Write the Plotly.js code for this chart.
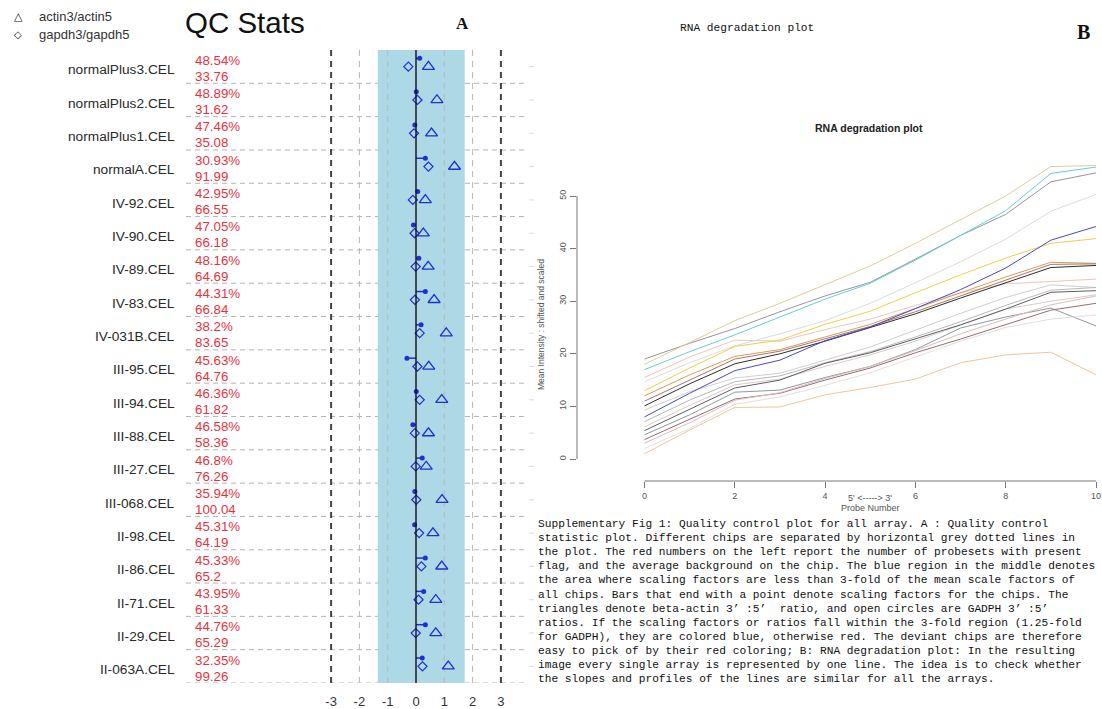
<!DOCTYPE html>
<html><head><meta charset="utf-8">
<script src="https://cdn.plot.ly/plotly-3.0.1.min.js"></script>
<style>html,body{margin:0;padding:0;background:#fff}#chart{width:1102px;height:709px}</style>
</head><body><div id="chart"></div>
<script>
// ---------- Panel A data (QC Stats) ----------
const chips = ["normalPlus3.CEL","normalPlus2.CEL","normalPlus1.CEL","normalA.CEL","IV-92.CEL","IV-90.CEL","IV-89.CEL","IV-83.CEL","IV-031B.CEL","III-95.CEL","III-94.CEL","III-88.CEL","III-27.CEL","III-068.CEL","II-98.CEL","II-86.CEL","II-71.CEL","II-29.CEL","II-063A.CEL"];
const presentPct = [48.54,48.89,47.46,30.93,42.95,47.05,48.16,44.31,38.2,45.63,46.36,46.58,46.8,35.94,45.31,45.33,43.95,44.76,32.35];
const background = [33.76,31.62,35.08,91.99,66.55,66.18,64.69,66.84,83.65,64.76,61.82,58.36,76.26,100.04,64.19,65.2,61.33,65.29,99.26];
const scaleFactor = [0.13,0.01,-0.04,0.33,0.06,-0.09,0.10,0.33,0.18,-0.32,0.01,-0.11,0.22,-0.04,-0.05,0.33,0.27,0.33,0.22];
const gapdhRatio = [-0.27,0.05,-0.07,0.44,-0.11,-0.05,-0.01,-0.04,0.13,0.05,0.13,-0.04,-0.01,0.01,0.11,0.19,0.09,-0.01,0.23];
const actinRatio = [0.44,0.74,0.55,1.36,0.33,0.26,0.43,0.64,1.07,0.45,0.91,0.44,0.36,0.92,0.60,0.91,0.70,0.70,1.14];
const sfRegion = [-1.35, 1.72];
const axisTicksA = [-3,-2,-1,0,1,2,3];

// ---------- Panel B data (RNA degradation) ----------
const probeNumber = [0,1,2,3,4,5,6,7,8,9,10];
const degLines = [
  [19.0,22.0,24.8,28.0,31.0,33.6,38.0,42.5,46.5,52.7,54.4],
  [18.0,22.2,26.3,29.6,33.2,36.7,41.0,45.5,50.0,55.6,55.8],
  [17.0,20.4,23.6,27.0,30.4,33.4,37.8,42.5,47.2,54.3,55.5],
  [15.5,19.4,22.6,22.4,24.6,26.6,29.2,31.6,33.3,33.8,34.2],
  [14.7,18.3,21.5,23.8,26.3,29.6,33.5,37.5,41.8,47.1,50.3],
  [13.0,17.3,21.4,22.6,25.6,28.1,31.6,35.0,38.2,41.0,41.9],
  [12.0,16.0,19.5,20.8,23.2,25.6,28.6,31.6,34.6,37.4,37.2],
  [11.0,15.0,19.0,20.5,22.8,25.2,28.0,31.0,34.0,37.0,37.1],
  [10.1,14.3,18.1,20.0,22.4,25.0,27.6,30.6,33.5,36.4,36.8],
  [9.3,12.8,15.4,16.3,18.8,21.3,24.5,27.7,30.7,33.1,32.6],
  [8.0,12.5,16.8,18.8,22.5,25.1,28.6,32.2,36.3,41.6,44.2],
  [7.1,11.2,14.7,15.8,18.3,20.4,23.2,26.1,29.2,32.1,32.6],
  [6.1,10.2,14.1,15.2,17.6,19.8,22.4,25.5,28.5,30.0,31.2],
  [5.4,9.4,13.5,15.0,18.2,20.2,22.8,25.5,28.5,31.7,32.0],
  [4.6,8.4,12.7,13.1,15.5,17.6,20.8,24.9,27.0,28.7,25.3],
  [3.7,7.5,11.4,12.5,15.0,17.3,20.2,22.8,25.6,28.3,29.6],
  [3.0,6.9,11.2,12.6,15.3,17.6,20.6,23.8,26.6,29.3,31.0],
  [2.0,5.8,10.4,11.8,14.0,16.4,19.4,22.4,25.0,26.6,27.4],
  [1.0,5.5,9.8,9.9,12.2,13.6,15.2,18.3,19.8,20.3,16.0]
];
const degColors = ["#a0929a","#e0cc9e","#62d2d2","#ecc6bc","#dcdcdc","#f0d048","#dc9a5a","#a87862","#2c2c2c","#cfcfcf","#4848d0","#b8b8b8","#dccaca","#5e5e5e","#8a9aa2","#9a6c70","#dfbcbc","#e6dede","#f3c49c"];
const degXTicks = [0,2,4,6,8,10];
const degYTicks = [0,10,20,30,40,50];

const captionLines = [
 "Supplementary Fig 1: Quality control plot for all array. A : Quality control",
 "statistic plot. Different chips are separated by horizontal grey dotted lines in",
 "the plot. The red numbers on the left report the number of probesets with present",
 "flag, and the average background on the chip. The blue region in the middle denotes",
 "the area where scaling factors are less than 3-fold of the mean scale factors of",
 "all chips. Bars that end with a point denote scaling factors for the chips. The",
 "triangles denote beta-actin 3\u2019 :5\u2019  ratio, and open circles are GADPH 3\u2019 :5\u2019",
 "ratios. If the scaling factors or ratios fall within the 3-fold region (1.25-fold",
 "for GADPH), they are colored blue, otherwise red. The deviant chips are therefore",
 "easy to pick of by their red coloring; B: RNA degradation plot: In the resulting",
 "image every single array is represented by one line. The idea is to check whether",
 "the slopes and profiles of the lines are similar for all the arrays."
];

// ---------- helpers ----------
const W = 1102, H = 709;
const px = v => v / W;
const py = v => 1 - v / H;
const SANS = "Liberation Sans, Arial, sans-serif";
const MONO = "Liberation Mono, Courier New, monospace";
const SERIF = "Liberation Serif, Times New Roman, serif";
const BLUE = "#1f2fd0";
const RED = "#e8323c";
const nRows = chips.length;
const rowIdx = chips.map((_, i) => i);

const traces = [];
// scale factor bars
traces.push({
  x: scaleFactor.flatMap(v => [0, v, null]),
  y: rowIdx.flatMap(i => [i + 0.25, i + 0.25, null]),
  mode: "lines", line: {color: BLUE, width: 1.5}, xaxis: "x", yaxis: "y", hoverinfo: "skip"
});
traces.push({
  x: scaleFactor, y: rowIdx.map(i => i + 0.25), mode: "markers",
  marker: {symbol: "circle", size: 5, color: BLUE}, xaxis: "x", yaxis: "y"
});
traces.push({
  x: gapdhRatio, y: rowIdx.map(i => i + 0.5), mode: "markers",
  marker: {symbol: "diamond-open", size: 7, color: BLUE, line: {width: 1.2}}, xaxis: "x", yaxis: "y"
});
traces.push({
  x: actinRatio, y: rowIdx.map(i => i + 0.5), mode: "markers",
  marker: {symbol: "triangle-up-open", size: 10.5, color: BLUE, line: {width: 1.3}}, xaxis: "x", yaxis: "y"
});
// degradation lines
degLines.forEach((vals, k) => {
  traces.push({x: probeNumber, y: vals, mode: "lines", line: {color: degColors[k], width: 1},
    xaxis: "x2", yaxis: "y2"});
});

// ---------- shapes ----------
const shapes = [];
shapes.push({type: "rect", xref: "x", yref: "y", x0: sfRegion[0], x1: sfRegion[1], y0: 0, y1: nRows,
  fillcolor: "#add8e6", line: {width: 0}, layer: "below"});
for (let r = 1; r <= nRows; r++) {
  shapes.push({type: "line", xref: "paper", yref: "y", x0: px(186), x1: px(525), y0: r, y1: r,
    line: {color: "#b4b4b4", width: 1, dash: "5px,4px"}, layer: "below"});
  shapes.push({type: "line", xref: "paper", yref: "y", x0: px(529), x1: px(534), y0: r - 0.5, y1: r - 0.5,
    line: {color: "#dddddd", width: 1}, layer: "below"});
}
axisTicksA.forEach(t => {
  let ln;
  if (t === 0) ln = {color: "#111", width: 1.4};
  else if (Math.abs(t) === 3) ln = {color: "#444", width: 2, dash: "6px,5px"};
  else ln = {color: "#b8b8b8", width: 1, dash: "6px,5px"};
  shapes.push({type: "line", xref: "x", yref: "y", x0: t, x1: t, y0: 0, y1: nRows, line: ln, layer: t === 0 ? "above" : "below"});
});
// Panel B axis lines (R style: only across tick range)
shapes.push({type: "line", xref: "x2", yref: "paper", x0: degXTicks[0], x1: degXTicks[degXTicks.length-1],
  y0: py(481), y1: py(481), line: {color: "#777", width: 1}});
shapes.push({type: "line", xref: "paper", yref: "y2", x0: px(577), x1: px(577),
  y0: degYTicks[0], y1: degYTicks[degYTicks.length-1], line: {color: "#777", width: 1}});

// ---------- annotations ----------
const ann = [];
chips.forEach((c, i) => {
  ann.push({text: c, xref: "paper", yref: "y", x: px(177), y: i + 0.6, xanchor: "right", yanchor: "middle",
    showarrow: false, font: {family: SANS, size: 13.7, color: "#2a2a2a"}});
  ann.push({text: presentPct[i] + "%", xref: "paper", yref: "y", x: px(193), y: i + 0.31, xanchor: "left", yanchor: "middle",
    showarrow: false, font: {family: SANS, size: 13.3, color: RED}});
  ann.push({text: String(background[i]), xref: "paper", yref: "y", x: px(193), y: i + 0.79, xanchor: "left", yanchor: "middle",
    showarrow: false, font: {family: SANS, size: 13.3, color: RED}});
});
const addText = (text, x, y, font, opts = {}) => ann.push(Object.assign({text, xref: "paper", yref: "paper",
  x: px(x), y: py(y), xanchor: "left", yanchor: "middle", showarrow: false, font}, opts));
addText("\u25B3", 12, 17, {family: "DejaVu Sans", size: 11, color: "#111"});
addText("actin3/actin5", 37, 17, {family: SANS, size: 13, color: "#333"});
addText("\u25C7", 12, 34, {family: "DejaVu Sans", size: 10, color: "#111"});
addText("gapdh3/gapdh5", 37, 34, {family: SANS, size: 13, color: "#333"});
addText("QC Stats", 183, 23, {family: SANS, size: 29.5, color: "#111"});
addText("<b>A</b>", 462, 24, {family: SERIF, size: 17, color: "#111"}, {xanchor: "center"});
addText("RNA degradation plot", 678, 28, {family: MONO, size: 11.2, color: "#111"});
addText("<b>B</b>", 1083, 32, {family: SERIF, size: 20, color: "#111"}, {xanchor: "center"});
addText("<b>RNA degradation plot</b>", 869, 128, {family: SANS, size: 10.5, color: "#222"}, {xanchor: "center"});
addText("Mean Intensity : shifted and scaled", 541, 325, {family: SANS, size: 8.5, color: "#555"}, {xanchor: "center", textangle: -90});
addText("5' <-----> 3'", 870, 498, {family: SANS, size: 9, color: "#555"}, {xanchor: "center"});
addText("Probe Number", 870, 508, {family: SANS, size: 9, color: "#555"}, {xanchor: "center"});
captionLines.forEach((t, i) => addText(t, 536, 524 + i * 14.1, {family: MONO, size: 11.2, color: "#111"}));

// ---------- layout ----------
const yTopA = 50, yBotA = 683;
const xZeroA = 416, unitA = 28.3;
const bx0 = 644.5, bx10 = 1096, by0 = 459, by50 = 196;
const bxu = (bx10 - bx0) / 10, byu = (by0 - by50) / 50;
const layout = {
  width: W, height: H, margin: {l: 0, r: 0, t: 0, b: 0},
  paper_bgcolor: "#fff", plot_bgcolor: "rgba(0,0,0,0)", showlegend: false,
  xaxis: {domain: [px(186), px(525)], range: [(186 - xZeroA) / unitA, (525 - xZeroA) / unitA],
    tickvals: axisTicksA, ticktext: axisTicksA.map(String), ticks: "", ticklabelstandoff: 9,
    showgrid: false, zeroline: false, showline: false, anchor: "y",
    tickfont: {family: SANS, size: 13, color: "#333"}},
  yaxis: {domain: [py(yBotA), py(yTopA)], range: [nRows, 0], showgrid: false, zeroline: false,
    showline: false, showticklabels: false, ticks: "", anchor: "x"},
  xaxis2: {domain: [px(577), px(1101)], range: [(577 - bx0) / bxu, (1101 - bx0) / bxu], anchor: "y2",
    tickvals: degXTicks, ticks: "outside", ticklen: 6, tickcolor: "#777", tickwidth: 1,
    showgrid: false, zeroline: false, showline: false,
    tickfont: {family: SANS, size: 9, color: "#555"}},
  yaxis2: {domain: [py(481), py(160)], range: [(by0 - 481) / byu, (by0 - 160) / byu], anchor: "x2",
    tickvals: degYTicks, ticks: "outside", ticklen: 6, tickcolor: "#777", tickwidth: 1, tickangle: -90,
    showgrid: false, zeroline: false, showline: false,
    tickfont: {family: SANS, size: 9, color: "#555"}},
  shapes: shapes, annotations: ann
};
Plotly.newPlot("chart", traces, layout, {staticPlot: true, displayModeBar: false});
</script></body></html>
